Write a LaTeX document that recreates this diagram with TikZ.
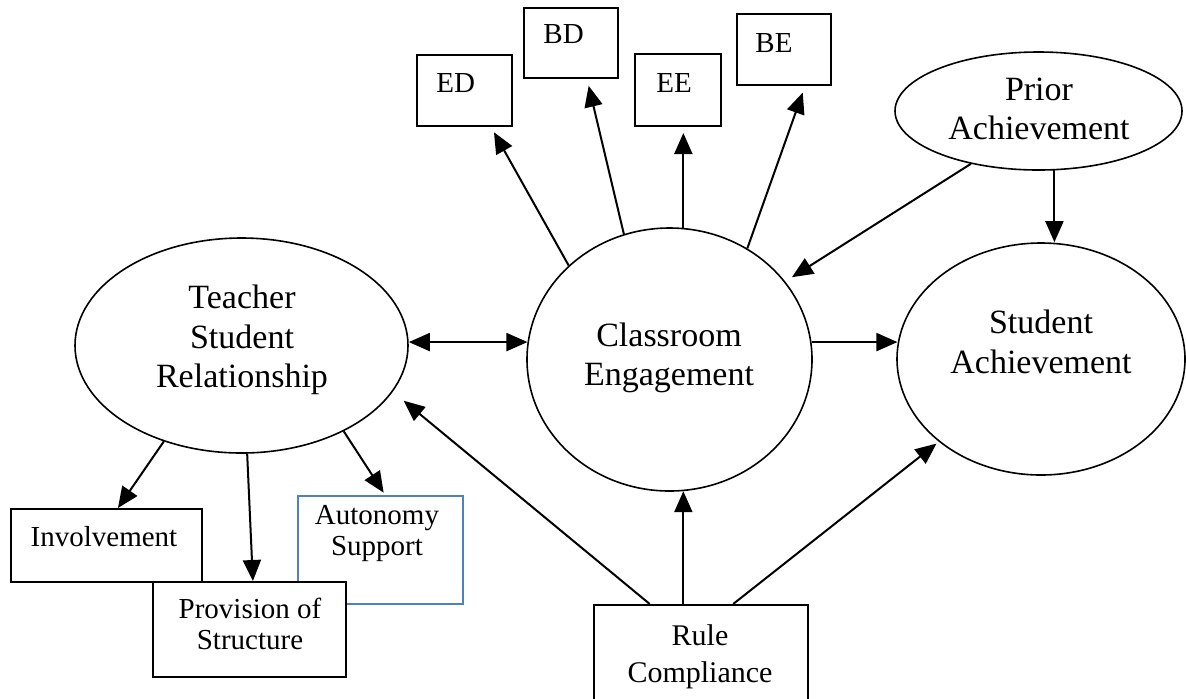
\documentclass[tikz,border=0pt]{standalone}
\usepackage{fontspec}
\setmainfont{Liberation Serif}
\usepackage{tikz}
\usetikzlibrary{arrows.meta,shapes.geometric}
\definecolor{asblue}{RGB}{79,129,189}
\tikzset{
  latent/.style={draw,ellipse,line width=0.8pt,inner sep=0pt},
  obsbox/.style={draw,rectangle,line width=1pt,inner sep=0pt,fill=white},
  bigtext/.style={inner sep=0pt,align=center,font=\fontsize{17}{19.75}\selectfont},
  midtext/.style={inner sep=0pt,align=center,font=\fontsize{15}{18.5}\selectfont},
  smalltext/.style={inner sep=0pt,align=center,font=\fontsize{14.5}{15.5}\selectfont},
  conn/.style={line width=1pt,-{Triangle[length=10.5pt,width=9pt]}},
  bothconn/.style={line width=1pt,{Triangle[length=10.5pt,width=9pt]}-{Triangle[length=10.5pt,width=9pt]}},
}

\begin{document}
\begin{tikzpicture}[x=0.5pt,y=-0.5pt]
  \useasboundingbox (0,0) rectangle (1186,698);
  % latent variables
  \node[latent,minimum width=166.5pt,minimum height=107.5pt] (TSR) at (241.5,345.5) {};
  \node[latent,minimum width=142.5pt,minimum height=131.5pt] (CE) at (669.5,359.5) {};
  \node[latent,minimum width=144pt,minimum height=116pt] (SA) at (1041,359) {};
  \node[latent,minimum width=143.5pt,minimum height=59pt] (PA) at (1038.5,111) {};
  \node[bigtext] (TSRt) at (242,340) {Teacher\\Student\\Relationship};
  \node[bigtext] (CEt) at (669,358) {Classroom\\Engagement};
  \node[bigtext] (SAt) at (1041,342) {Student\\Achievement};
  \node[bigtext] (PAt) at (1039,109) {Prior\\Achievement};
  % engagement indicators
  \node[obsbox,minimum width=47.5pt,minimum height=35.5pt] (ED) at (464.5,90.5) {};
  \node[obsbox,minimum width=47pt,minimum height=35pt] (BD) at (571,43) {};
  \node[obsbox,minimum width=43pt,minimum height=36pt] (EE) at (678,90) {};
  \node[obsbox,minimum width=47pt,minimum height=35.5pt] (BE) at (784,49.5) {};
  \node[smalltext,anchor=base west] (EDt) at (436,92) {ED};
  \node[smalltext,anchor=base west] (BDt) at (543,43) {BD};
  \node[smalltext,anchor=base west] (EEt) at (656,92) {EE};
  \node[smalltext,anchor=base west] (BEt) at (755,52) {BE};
  % relationship indicators
  \node[obsbox,draw=asblue,line width=0.8pt,minimum width=82.5pt,minimum height=54pt] (AS) at (380.5,550) {};
  \node[smalltext] (ASt) at (377,533) {Autonomy\\Support};
  \node[obsbox,minimum width=95.5pt,minimum height=36.5pt] (INV) at (106.5,545.5) {};
  \node[smalltext] (INVt) at (104,537) {Involvement};
  \node[obsbox,minimum width=96.5pt,minimum height=47.5pt] (PS) at (249.5,629.5) {};
  \node[smalltext] (PSt) at (250,624) {Provision of\\Structure};
  \node[obsbox,minimum width=107pt,minimum height=48.5pt] (RC) at (701,653.5) {};
  \node[midtext] (RCt) at (700,657) {Rule\\Compliance};
  % paths
  \draw[bothconn] (TSR.east |- CE.173) -- (CE.173);
  \draw[conn] (CE.7) -- (CE.7 -| SA.174);
  \draw[conn] (PA.-75) -- (PA.-75 |- SA.north);
  \draw[conn,shorten >=4pt] (PA.-142) -- (CE.34);
  \draw[conn,shorten >=3pt] (CE.137) -- (ED.-54);
  \draw[conn,shorten >=3.5pt] (CE.110) -- (BD.-66);
  \draw[conn,shorten >=3pt] (CE.84) -- (CE.84 |- EE.south);
  \draw[conn,shorten >=3.5pt] (CE.55) -- (BE.-60);
  \draw[conn] (CE.-84 |- RC.north) -- (CE.-84);
  \draw[conn,shorten >=7pt] (RC.136) -- (TSR.-17);
  \draw[conn,shorten >=1.5pt] (RC.57) -- (SA.-141);
  \draw[conn] (TSR.-129) -- (INV.73);
  \draw[conn] (TSR.-87) -- (PS.86);
  \draw[conn,shorten >=1.5pt] (TSR.-40) -- (AS.85);
\end{tikzpicture}
\end{document}
